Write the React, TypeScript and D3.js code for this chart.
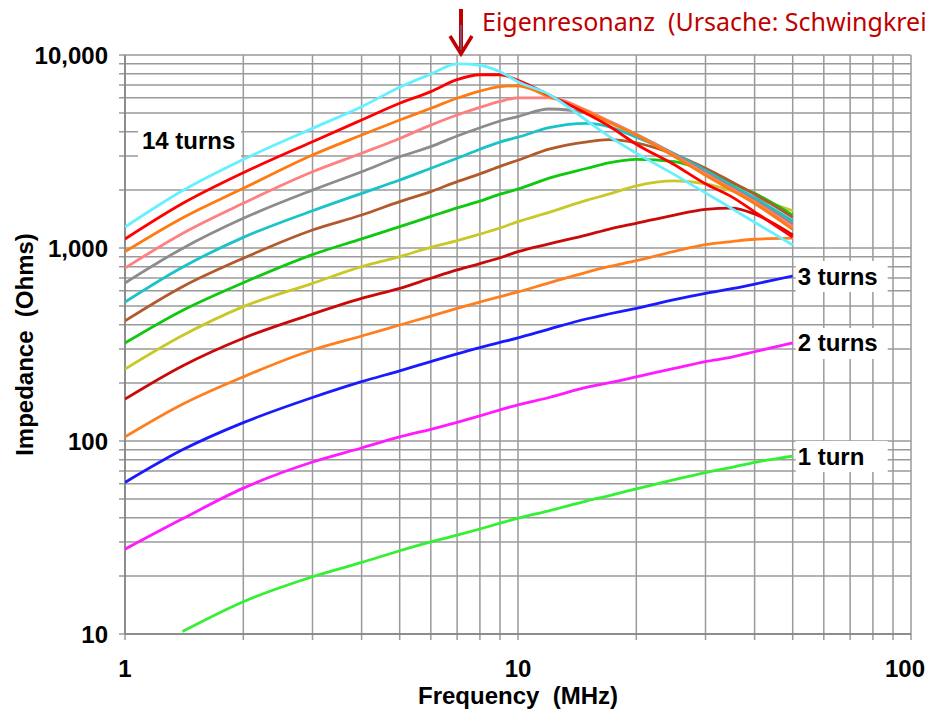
import React from 'react';
import * as d3 from 'd3';

// frequency sample points (MHz)
const freqs = [1, 1.4, 2, 3, 4, 5, 6, 7, 8, 9, 10, 12, 15, 17, 20, 25, 30, 35, 40, 50];

// impedance (Ohms) per winding count
const turns1 = [null, 10.3, 14.7, 19.8, 23.5, 27, 30, 32.5, 35, 37.5, 39.8, 43.5, 49, 52, 56.5, 63, 68.5, 73, 77.5, 83.6];
const turns2 = [27.5, 39.5, 57, 77.8, 92, 105, 115, 125, 135, 145, 154, 168, 190, 200, 215, 238, 258, 272, 290, 322];
const turns3 = [61, 90, 124.5, 168, 203, 231, 258, 283, 305, 324, 342, 380, 430, 455, 487, 540, 582, 615, 650, 716];
const turns4 = [105, 155, 215, 296, 350, 399, 444, 487, 525, 560, 592, 660, 750, 800, 860, 960, 1040, 1080, 1110, 1125];
const turns5 = [165, 245, 341, 455, 548, 618, 697, 770, 830, 890, 957, 1050, 1170, 1250, 1343, 1482, 1585, 1610, 1500, 1170];
const turns6 = [236, 352, 497, 656, 800, 902, 1008, 1092, 1180, 1270, 1370, 1530, 1770, 1900, 2100, 2225, 2150, 1980, 1820, 1560];
const turns7 = [322, 475, 661, 924, 1115, 1290, 1457, 1614, 1750, 1900, 2020, 2300, 2590, 2760, 2880, 2800, 2500, 2170, 1920, 1480];
const turns8 = [419, 630, 885, 1240, 1482, 1738, 1960, 2208, 2420, 2650, 2850, 3250, 3550, 3640, 3500, 3050, 2590, 2200, 1900, 1440];
const turns9 = [525, 795, 1135, 1560, 1919, 2250, 2589, 2918, 3250, 3540, 3750, 4200, 4420, 4250, 3750, 3080, 2520, 2110, 1820, 1380];
const turns10 = [659, 995, 1425, 1995, 2483, 2972, 3350, 3804, 4200, 4550, 4800, 5250, 5000, 4550, 3880, 3060, 2460, 2060, 1770, 1330];
const turns11 = [787, 1190, 1706, 2483, 3097, 3696, 4334, 4887, 5350, 5750, 6000, 6000, 5150, 4550, 3870, 3020, 2420, 2020, 1730, 1290];
const turns12 = [957, 1430, 2037, 3033, 3848, 4604, 5295, 5972, 6500, 6850, 6930, 6080, 5100, 4500, 3850, 2980, 2380, 1990, 1700, 1250];
const turns13 = [1113, 1700, 2455, 3556, 4604, 5619, 6457, 7450, 7900, 7900, 7400, 6200, 4950, 4300, 3450, 2700, 2150, 1840, 1540, 1140];
const turns14 = [1285, 1980, 2875, 4168, 5395, 6810, 7970, 9000, 8850, 8180, 7275, 6250, 4550, 3800, 3100, 2400, 1930, 1600, 1360, 1036];

const series = [
  { values: turns1, color: '#33f033' },
  { values: turns2, color: '#ff1aff' },
  { values: turns3, color: '#1a1aff' },
  { values: turns4, color: '#ff7f1f' },
  { values: turns5, color: '#c80a0a' },
  { values: turns6, color: '#c8c828' },
  { values: turns7, color: '#10c810' },
  { values: turns8, color: '#b35a2d' },
  { values: turns9, color: '#19c3c8' },
  { values: turns10, color: '#8c8c8c' },
  { values: turns11, color: '#ff8080' },
  { values: turns12, color: '#ff7a10' },
  { values: turns13, color: '#ff0000' },
  { values: turns14, color: '#66f0ff' },
];

const endLabels = [
  { text: '3 turns', values: turns3 },
  { text: '2 turns', values: turns2 },
  { text: '1 turn', values: turns1 },
];

const xLabels = [1, 10, 100];
const yLabels = [10, 100, 1000, 10000];

const font = '"Liberation Sans", Arial, sans-serif';

export default function App() {
  const width = 926;
  const height = 711;

  const x = d3.scaleLog().domain([1, 100]).range([125, 911]);
  const y = d3.scaleLog().domain([10, 10000]).range([634, 55]);

  const xTicks = x.ticks();
  const yTicks = y.ticks();
  const fmt = d3.format(',');

  const line = d3
    .line<[number, number | null]>()
    .defined((d) => d[1] != null)
    .x((d) => x(d[0]))
    .y((d) => y(d[1] as number))
    .curve(d3.curveMonotoneX);

  const [x0, x1] = x.range();
  const [y1, y0] = y.range();

  return (
    <svg
      width={width}
      height={height}
      style={{ position: 'absolute', left: 0, top: 0, background: '#fff' }}
    >
      <defs>
        <clipPath id="plot">
          <rect x={x0} y={y0} width={x1 - x0} height={y1 - y0} />
        </clipPath>
      </defs>

      {/* grid */}
      <g stroke="#9a9a9a" strokeWidth={1.5}>
        {yTicks.map((t) => (
          <line key={'y' + t} x1={x0 - 6} x2={x1} y1={y(t)} y2={y(t)} />
        ))}
        {xTicks.map((t) => (
          <line key={'x' + t} x1={x(t)} x2={x(t)} y1={y0} y2={y1 + 6} />
        ))}
      </g>
      <g stroke="#808080" strokeWidth={1.5}>
        <line x1={x0} x2={x0} y1={y0} y2={y1} />
        <line x1={x0} x2={x1} y1={y1} y2={y1} />
      </g>

      {/* curves */}
      <g clipPath="url(#plot)" fill="none" strokeWidth={2.8} strokeLinejoin="round">
        {series.map((s, i) => (
          <path
            key={i}
            d={line(freqs.map((f, j) => [f, s.values[j]]) as [number, number | null][]) || ''}
            stroke={s.color}
          />
        ))}
      </g>

      {/* tick labels */}
      <g fontFamily={font} fontWeight="bold" fontSize={24} fill="#000">
        {yLabels.map((t) => (
          <text key={t} x={108} y={y(t)} dy="0.36em" textAnchor="end">
            {fmt(t)}
          </text>
        ))}
        {xLabels.map((t, i) => (
          <text
            key={t}
            x={i === xLabels.length - 1 ? width - 1 : x(t)}
            y={677}
            textAnchor={i === xLabels.length - 1 ? 'end' : 'middle'}
          >
            {t}
          </text>
        ))}
        <text x={518} y={704} textAnchor="middle" style={{ whiteSpace: 'pre' }}>
          {'Frequency  (MHz)'}
        </text>
        <text
          transform={`translate(33,${(y0 + y1) / 2}) rotate(-90)`}
          textAnchor="middle"
          style={{ whiteSpace: 'pre' }}
        >
          {'Impedance  (Ohms)'}
        </text>
      </g>

      {/* series labels */}
      <g fontFamily={font} fontWeight="bold" fontSize={24} fill="#000">
        <rect x={138} y={126} width={103} height={32} fill="#fff" />
        <text x={142} y={149}>14 turns</text>
        {endLabels.map((l) => {
          const cy = y(l.values[l.values.length - 1] as number);
          return (
            <g key={l.text}>
              <rect x={x(50) + 3} y={cy - 15} width={92} height={31} fill="#fff" />
              <text x={x(50) + 5} y={cy + 8.5}>
                {l.text}
              </text>
            </g>
          );
        })}
      </g>

      {/* resonance annotation */}
      <g>
        <line x1={461} x2={461} y1={9} y2={51} stroke="#c00000" strokeWidth={4} />
        <line x1={461} x2={461} y1={25} y2={51} stroke="#6080b0" strokeWidth={1.2} />
        <polyline
          points="450,36 461,54 472,36"
          fill="none"
          stroke="#c00000"
          strokeWidth={3.5}
        />
        <text
          x={482}
          y={31}
          fontFamily='"Noto Sans", sans-serif'
          fontSize={25}
          fill="#c00000"
          style={{ whiteSpace: 'pre' }}
        >
          {'Eigenresonanz  (Ursache: Schwingkreis)'}
        </text>
      </g>
    </svg>
  );
}
